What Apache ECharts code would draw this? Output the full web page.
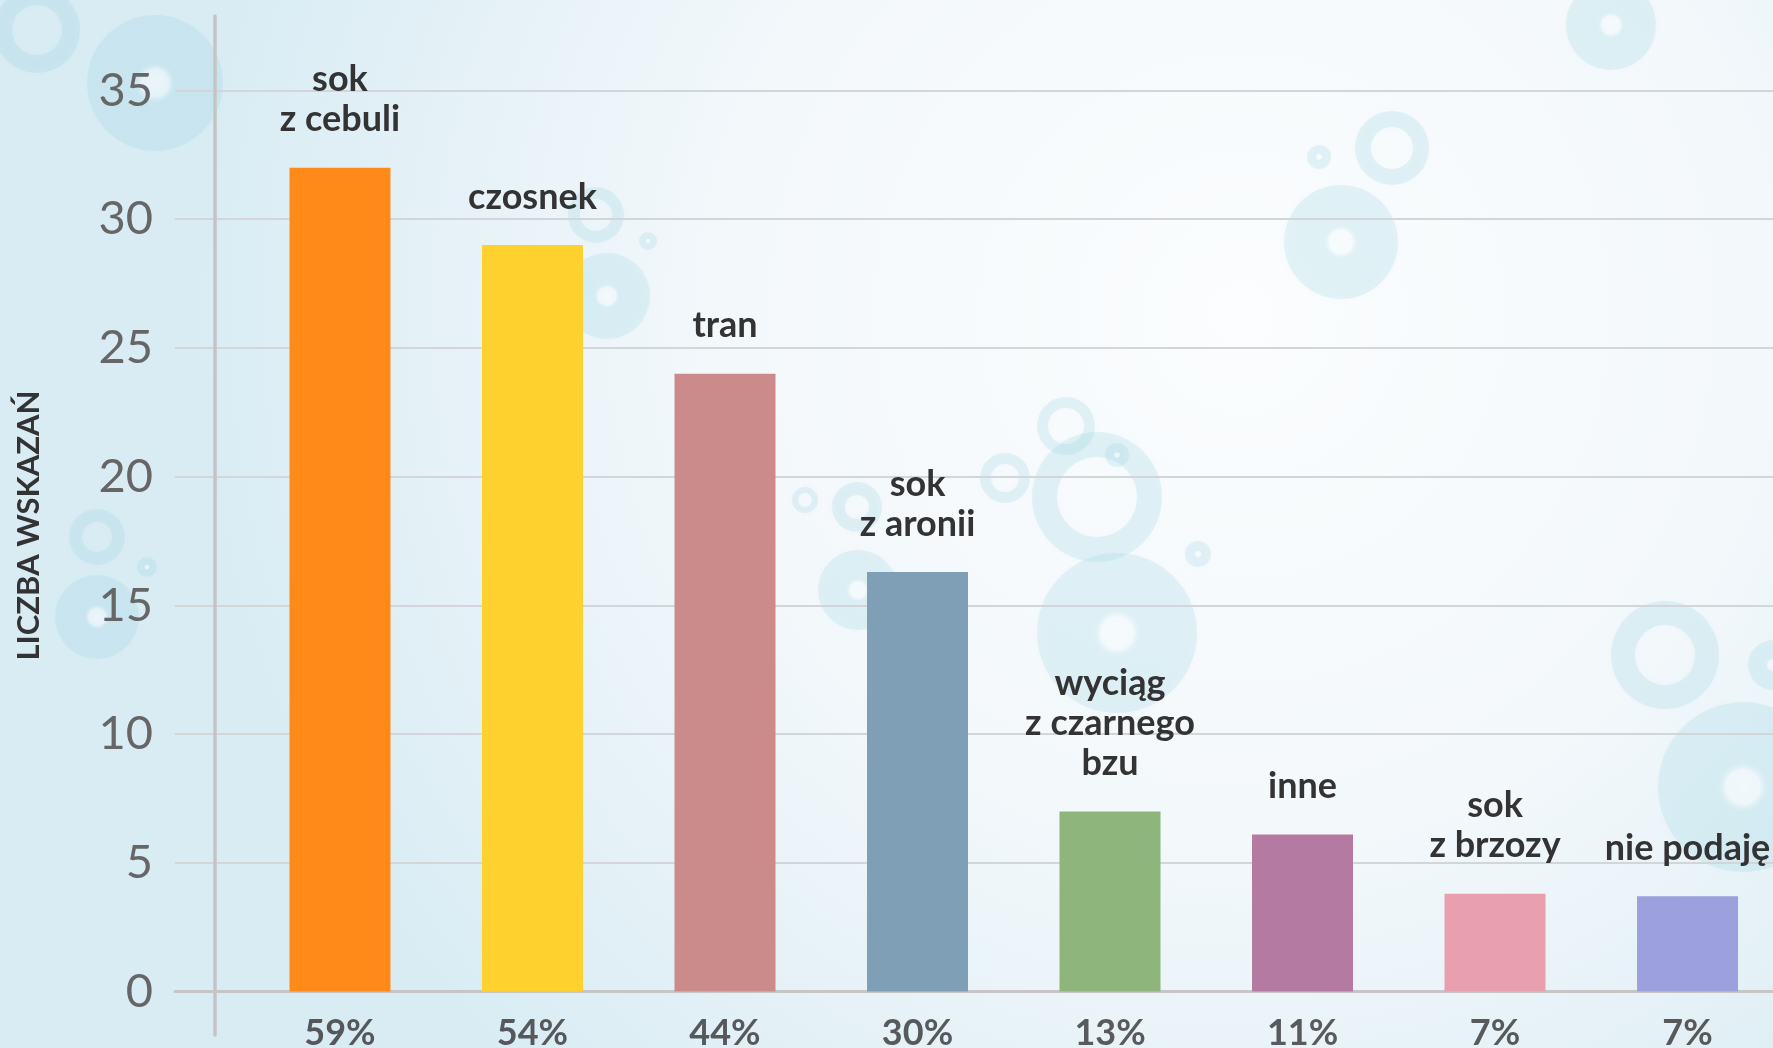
<!DOCTYPE html>
<html>
<head>
<meta charset="utf-8">
<script src="https://cdn.jsdelivr.net/npm/echarts@6/dist/echarts.min.js"></script>
<style>
  html, body { margin: 0; padding: 0; }
  #chart { width: 1773px; height: 1048px; }
</style>
</head>
<body>
<div id="chart"></div>
<script>
// dane
const categories = ["sok\nz cebuli", "czosnek", "tran", "sok\nz aronii", "wyciąg\nz czarnego\nbzu", "inne", "sok\nz brzozy", "nie podaję"];
const counts = [32, 29, 24, 16.3, 7, 6.1, 3.8, 3.7];
const shares = ["59%", "54%", "44%", "30%", "13%", "11%", "7%", "7%"];
const barColors = ["#ff8a19", "#fed12f", "#cc8b8b", "#7f9fb7", "#8db57c", "#b47aa2", "#e9a0ae", "#9ca1dd"];
const yTitle = "LICZBA WSKAZAŃ";

// dekoracyjne bąbelki w tle: [cx, cy, r, r0] (r0 > 0 → pierścień)
const bubbles = [
  [37, 30, 43, 25], [155, 83, 68, 0], [1611, 25, 45, 0], [1392, 148, 37, 21],
  [1319, 157, 12, 0], [1341, 242, 57, 0], [596, 215, 28, 16], [648, 241, 9, 0],
  [607, 296, 43, 0], [1066, 426, 29, 18], [1005, 478, 25, 14], [1097, 497, 65, 40],
  [1117, 455, 12, 0], [1198, 554, 13, 0], [857, 507, 25, 12], [858, 590, 40, 0],
  [1117, 633, 80, 0], [805, 500, 13, 7], [1665, 655, 54, 30], [1743, 787, 85, 0],
  [1773, 665, 25, 0], [97, 537, 28, 15], [97, 617, 42, 0], [147, 567, 10, 0]
];

const FONT = "Lato, 'Noto Sans', sans-serif";
const BUBBLE = "rgba(150, 210, 225, 0.22)";

const chart = echarts.init(document.getElementById("chart"));

const graphics = bubbles.map(([cx, cy, r, r0]) => r0
  ? { type: "ring", z: -10, silent: true, shape: { cx, cy, r, r0 },
      style: { fill: BUBBLE, shadowBlur: 6, shadowColor: BUBBLE } }
  : {
      type: "circle", z: -10, silent: true, shape: { cx, cy, r },
      style: {
        shadowBlur: 8, shadowColor: BUBBLE,
        fill: {
          type: "radial", x: 0.5, y: 0.5, r: 0.5,
          colorStops: [
            { offset: 0, color: "rgba(255,255,255,0.6)" },
            { offset: 0.2, color: "rgba(255,255,255,0.4)" },
            { offset: 0.3, color: BUBBLE },
            { offset: 1, color: BUBBLE }
          ]
        }
      }
    });

chart.setOption({
  backgroundColor: {
    type: "radial", x: 0.7, y: 0.3, r: 1.0,
    colorStops: [
      { offset: 0, color: "#fbfdfe" },
      { offset: 0.5, color: "#f3f8fb" },
      { offset: 1, color: "#d9ecf4" }
    ]
  },
  animation: false,
  graphic: { elements: graphics },
  grid: [
    { left: 175, right: 0, top: 90.5, bottom: 56.4, outerBoundsMode: "none" },
    { left: 215, width: 20, top: 16, bottom: 13, outerBoundsMode: "none" }
  ],
  xAxis: [
    {
      gridIndex: 0, type: "value", min: -0.857, max: 7.444,
      axisLine: { show: true, onZero: true, lineStyle: { color: "#c6c6c6", width: 3 } },
      axisTick: { show: false }, axisLabel: { show: false }, splitLine: { show: false }
    },
    { gridIndex: 1, type: "value", show: false }
  ],
  yAxis: [
    {
      gridIndex: 0, type: "value", min: 0, max: 35, interval: 5,
      axisLine: { show: false }, axisTick: { show: false },
      axisLabel: { color: "#666", fontSize: 47, fontFamily: FONT, margin: 22 },
      splitLine: { lineStyle: { color: "#d3d6d8", width: 2 } }
    },
    {
      gridIndex: 1, type: "value", min: 0, max: 1,
      axisLine: { show: true, lineStyle: { color: "#c4c4c4", width: 3.5 } },
      axisTick: { show: false }, axisLabel: { show: false }, splitLine: { show: false },
      name: yTitle, nameLocation: "middle", nameRotate: 90, nameGap: 171,
      nameTextStyle: { fontSize: 31, fontWeight: "bold", color: "#333", fontFamily: FONT, lineHeight: 31 }
    }
  ],
  series: [
    {
      type: "bar",
      xAxisIndex: 0, yAxisIndex: 0,
      barWidth: 101,
      data: counts.map((v, i) => ({ value: [i, v], itemStyle: { color: barColors[i] } })),
      label: {
        show: true, position: "top", distance: 28,
        formatter: (p) => categories[p.dataIndex],
        fontSize: 36, fontWeight: "bold", color: "#333", fontFamily: FONT, lineHeight: 40
      }
    },
    {
      type: "scatter",
      xAxisIndex: 0, yAxisIndex: 0,
      clip: false, symbolSize: 1,
      itemStyle: { color: "transparent" },
      data: counts.map((v, i) => [i, 0]),
      label: {
        show: true, position: "bottom", distance: 23,
        formatter: (p) => shares[p.dataIndex],
        fontSize: 36, fontWeight: "bold", color: "#333", fontFamily: FONT, lineHeight: 36
      }
    }
  ]
});
</script>
</body>
</html>
